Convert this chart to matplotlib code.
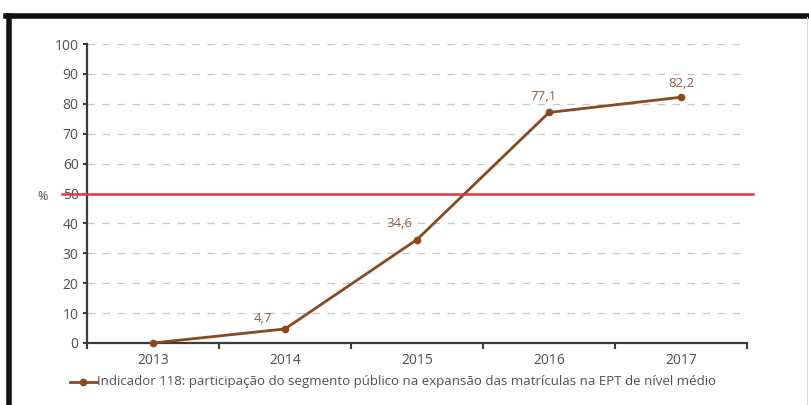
import matplotlib
matplotlib.use("Agg")
import matplotlib.pyplot as plt
from matplotlib.lines import Line2D

plt.rcParams['font.family'] = ['Open Sans', 'DejaVu Sans']

years = ["2013", "2014", "2015", "2016", "2017"]
values = [0.0, 4.7, 34.6, 77.1, 82.2]
value_labels = ["", "4,7", "34,6", "77,1", "82,2"]
target = 50
series_name = "Indicador 118: participação do segmento público na expansão das matrículas na EPT de nível médio"

W, H = 809, 405
fig = plt.figure(figsize=(W / 100, H / 100), dpi=100)
ax = fig.add_axes([87 / W, 1 - 343 / H, 660 / W, 299 / H])

line_color = "#8a4a1e"
label_color = "#8a6048"
text_color = "#505050"
axis_color = "#3c3c3c"

x = list(range(len(years)))
ax.plot(x, values, color=line_color, lw=2.0, marker="o", ms=4.5, zorder=4, clip_on=False)

offsets = [(0, 0), (-16, 3), (-13, 7), (-4, 7), (0, 5)]
for xi, v, lab, off in zip(x, values, value_labels, offsets):
    if lab:
        ax.annotate(lab, (xi, v), xytext=off, textcoords="offset points",
                    ha="center", va="bottom", fontsize=9.5, color=label_color)

ax.set_xlim(-0.5, len(years) - 0.5)
ax.set_ylim(0, 100)
ax.set_yticks(range(0, 101, 10))
ax.set_xticks(x)
ax.set_xticklabels(years)
ax.set_xticks([i - 0.5 for i in range(len(years) + 1)], minor=True)
ax.tick_params(axis="x", which="major", length=0, pad=7, labelsize=10, labelcolor=text_color)
ax.tick_params(axis="x", which="minor", length=4, width=1.5, color=axis_color, direction="out")
ax.tick_params(axis="y", length=3, width=1.5, color=axis_color, pad=3, labelsize=10, labelcolor=text_color)

for s in ("top", "right"):
    ax.spines[s].set_visible(False)
for s in ("left", "bottom"):
    ax.spines[s].set_color(axis_color)
    ax.spines[s].set_linewidth(1.6)

for yv in range(10, 101, 10):
    if yv == target:
        continue
    ax.axhline(yv, color="#c8c8c8", lw=0.9, ls=(0, (6, 6)), zorder=1)

ax.axhline(target, xmin=(62 - 87) / 660, xmax=(753 - 87) / 660,
           color="#e0383c", lw=1.8, zorder=5, clip_on=False)

fig.text(43 / W, 1 - 196 / H, "%", fontsize=9, color=text_color, ha="center", va="center")

# legend
fig.add_artist(Line2D([70 / W, 97 / W], [1 - 382 / H] * 2, color=line_color, lw=2.0))
fig.add_artist(Line2D([83 / W], [1 - 382 / H], color=line_color, marker="o", ms=4.5, lw=0))
fig.text(97 / W, 1 - 382 / H, series_name, fontsize=9.5, color=text_color, ha="left", va="center")

# frame
fig.add_artist(Line2D([6 / W, 1], [1 - 15.5 / H] * 2, color="#111111", lw=4))
fig.add_artist(Line2D([8.5 / W] * 2, [0, 1 - 15.5 / H], color="#111111", lw=4))
fig.add_artist(Line2D([807 / W] * 2, [0, 1 - 17 / H], color="#dddddd", lw=0.8))

fig.savefig("out.png", dpi=100, facecolor="white")
